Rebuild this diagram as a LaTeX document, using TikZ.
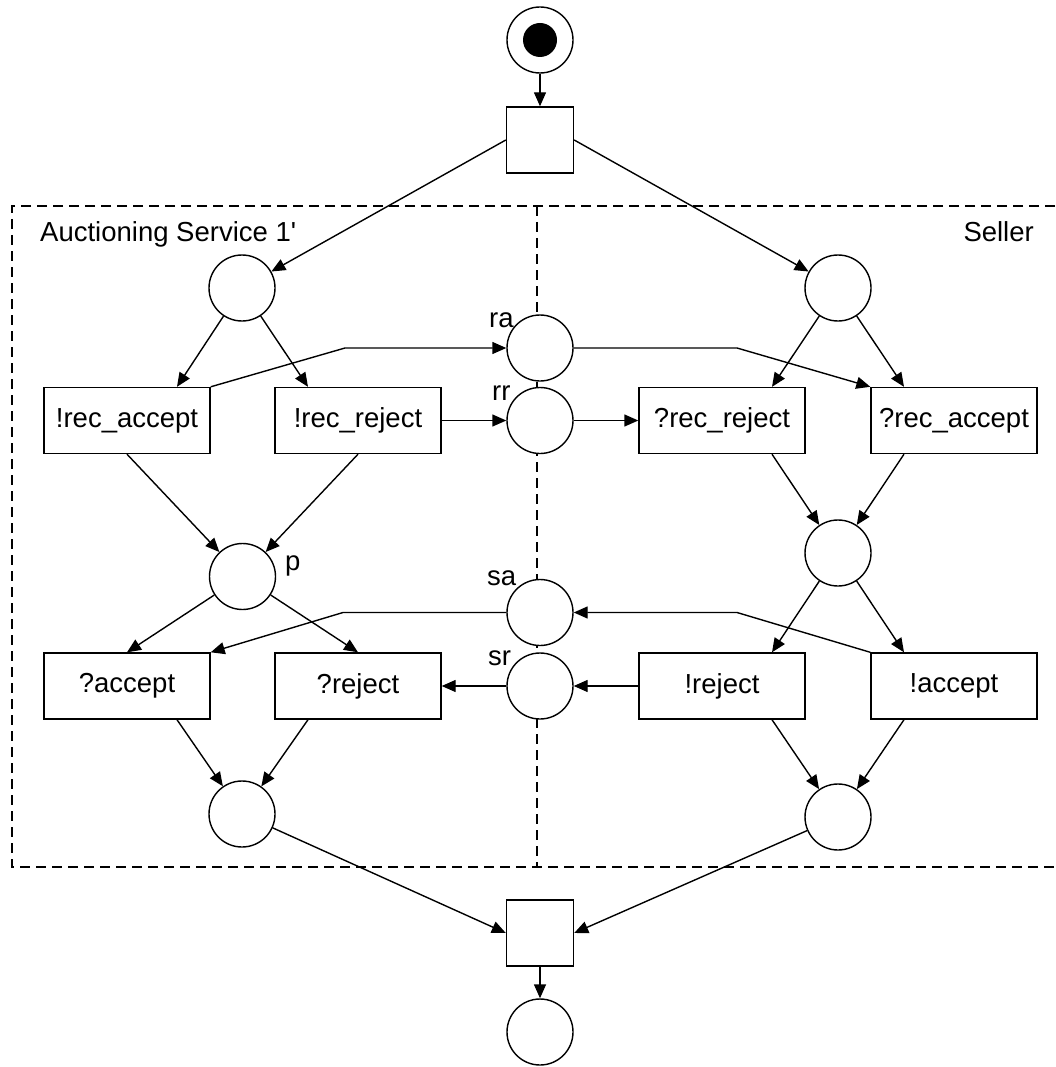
\documentclass[tikz,border=0pt]{standalone}
\usepackage{fontspec}
\setmainfont{Liberation Sans}
\usetikzlibrary{arrows.meta}
\tikzset{
  place/.style={circle,draw,line width=1.4pt,fill=white,minimum size=66pt,inner sep=0pt},
  trans/.style={rectangle,draw,line width=1.4pt,fill=white,minimum width=67pt,minimum height=66pt,inner sep=0pt},
  tbox/.style={rectangle,draw,line width=1.4pt,fill=white,minimum width=166pt,minimum height=66pt,inner sep=0pt,font=\fontsize{27.5}{33}\selectfont},
  lbl/.style={anchor=base west,inner sep=0pt,font=\fontsize{27.5}{33}\selectfont},
  arc/.style={line width=1.4pt,-{Triangle[length=14pt,width=12pt]}},
  frame/.style={line width=1.4pt,dash pattern=on 10pt off 6pt}
}
\begin{document}
\begin{tikzpicture}[x=1pt,y=-1pt]
\useasboundingbox (0,0) rectangle (1055,1067);
% frame
\draw[frame] (1055,206) -- (12,206) -- (12,867) -- (1055,867);
\draw[frame] (537,206) -- (537,867);
% nodes
\node[place] (s) at (540,40) {};
\fill (s.center) circle (17pt);
\node[trans] (t0) at (540,140) {};
\node[place] (pl1) at (242,288) {};
\node[place] (pr1) at (838,288) {};
\node[tbox] (rA) at (127,420.5) {!rec\_accept};
\node[tbox] (rR) at (358,420.5) {!rec\_reject};
\node[tbox] (qrR) at (722,420.5) {?rec\_reject};
\node[tbox] (qrA) at (954,420.5) {?rec\_accept};
\node[place] (ra) at (540,348) {};
\node[place] (rr) at (540,420.5) {};
\node[place] (sa) at (540,612.5) {};
\node[place] (sr) at (540,686) {};
\node[place] (p) at (242.5,576.5) {};
\node[place] (pr2) at (838,553) {};
\node[tbox] (qA) at (127,686) {?accept};
\node[tbox] (qR) at (358,686) {?reject};
\node[tbox] (eR) at (722,686) {!reject};
\node[tbox] (eA) at (954,686) {!accept};
\node[place] (pl3) at (242,814) {};
\node[place] (pr3) at (838,817) {};
\node[trans] (t1) at (540,933) {};
\node[place] (e) at (540,1032) {};
% labels
\node[lbl] (Lauc) at (40,242) {Auctioning Service 1\textquotesingle};
\node[lbl,anchor=base east] (Lsel) at (1034,242) {Seller};
\node[lbl] (Lra) at (489,327) {ra};
\node[lbl] (Lrr) at (492,400) {rr};
\node[lbl] (Lsa) at (487,585) {sa};
\node[lbl] (Lsr) at (488,665) {sr};
\node[lbl] (Lp) at (285,570) {p};
% bend points
\coordinate (b1) at (345,348);
\coordinate (b2) at (737,348);
\coordinate (b3) at (343,612.5);
\coordinate (b4) at (737,612.5);
% arcs
\draw[arc] (s) -- (t0);
\draw[arc] (t0.west) -- (pl1);
\draw[arc] (t0.east) -- (pr1);
\draw[arc] (pl1) -- ([xshift=50pt]rA.north);
\draw[arc] (pl1) -- ([xshift=-50pt]rR.north);
\draw[arc] (pr1) -- ([xshift=50pt]qrR.north);
\draw[arc] (pr1) -- ([xshift=-50pt]qrA.north);
\draw[arc] (rA.north east) -- (b1) -- (ra.west);
\draw[arc] (ra.east) -- (b2) -- (qrA.north west);
\draw[arc] (rR) -- (rr);
\draw[arc] (rr) -- (qrR);
\draw[arc] (rA.south) -- (p);
\draw[arc] (rR.south) -- (p);
\draw[arc] ([xshift=50pt]qrR.south) -- (pr2);
\draw[arc] ([xshift=-50pt]qrA.south) -- (pr2);
\draw[arc] (p) -- (qA.north);
\draw[arc] (p) -- (qR.north);
\draw[arc] (pr2) -- ([xshift=50pt]eR.north);
\draw[arc] (pr2) -- ([xshift=-50pt]eA.north);
\draw[arc] (sa.west) -- (b3) -- (qA.north east);
\draw[arc] (eA.north west) -- (b4) -- (sa.east);
\draw[arc] (eR) -- (sr);
\draw[arc] (sr) -- (qR);
\draw[arc] ([xshift=50pt]qA.south) -- (pl3);
\draw[arc] ([xshift=-50pt]qR.south) -- (pl3);
\draw[arc] ([xshift=50pt]eR.south) -- (pr3);
\draw[arc] ([xshift=-50pt]eA.south) -- (pr3);
\draw[arc] (pl3) -- (t1.west);
\draw[arc] (pr3) -- (t1.east);
\draw[arc] (t1) -- (e);
\end{tikzpicture}
\end{document}
